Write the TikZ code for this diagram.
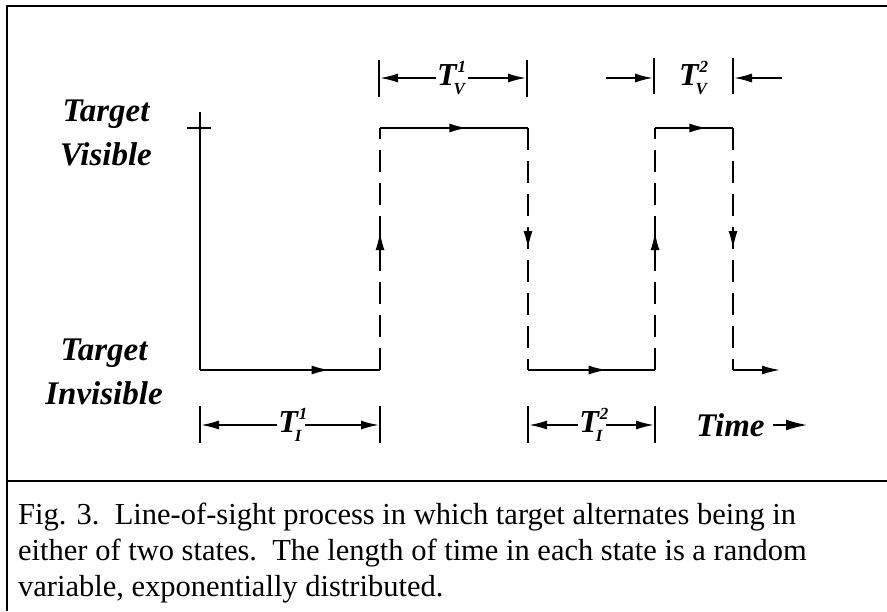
\documentclass[tikz,border=0pt]{standalone}
\usepackage{fontspec}
\setmainfont{Liberation Serif}
\usetikzlibrary{arrows.meta,decorations.markings}
\newcommand\TLab[2]{{\fontsize{32}{32}\selectfont\bfseries\itshape T\kern1pt\rlap{\raisebox{13pt}{\fontsize{17}{17}\selectfont #2}}\kern-4pt\raisebox{-9pt}{\fontsize{17}{17}\selectfont #1}\kern2pt}}
\begin{document}
\begin{tikzpicture}[x=1pt,y=-1pt,
  line cap=butt,
  sig/.style={line width=1.8pt},
  dsh/.style={line width=1.8pt, dash pattern=on 22pt off 11pt},
  midarr/.style={postaction={decorate},decoration={markings,mark=at position #1 with {\arrow{Latex[length=18pt,width=9pt]}}}},
  dimarr/.style={line width=1.8pt,-{Latex[length=18pt,width=9pt]}},
  bar/.style={line width=1.8pt},
  frame/.style={line width=2.4pt},
  lbl/.style={font=\fontsize{33}{44}\selectfont\bfseries\itshape, align=center, inner sep=0pt},
  tlab/.style={inner sep=1pt},
]
\useasboundingbox (0,0) rectangle (887,611);
% frame
\draw[frame] (7,611) -- (7,6) -- (887,6);
\draw[frame] (7,481) -- (887,481);
% corners of the signal
\coordinate (a0) at (200,370);
\coordinate (a1) at (380,370);
\coordinate (a2) at (380,128);
\coordinate (a3) at (528,128);
\coordinate (a4) at (528,370);
\coordinate (a5) at (655,370);
\coordinate (a6) at (655,128);
\coordinate (a7) at (733,128);
\coordinate (a8) at (733,370);
\coordinate (a9) at (780,370);
\coordinate (ax) at (200,112);
\coordinate (tk1) at (187,128);
\coordinate (tk2) at (211,128);
% axis
\draw[sig] (ax) -- (a0);
\draw[sig] (tk1) -- (tk2);
% signal
\draw[sig,midarr=0.72] (a0) -- (a1);
\draw[dsh,midarr=0.57] (a1) -- (a2);
\draw[sig,midarr=0.59] (a2) -- (a3);
\draw[dsh,midarr=0.5] (a3) -- (a4);
\draw[sig,midarr=0.62] (a4) -- (a5);
\draw[dsh,midarr=0.57] (a5) -- (a6);
\draw[sig,midarr=0.67] (a6) -- (a7);
\draw[dsh,midarr=0.5] (a7) -- (a8);
\draw[dimarr] (a8) -- (a9);
% state labels
\node[lbl] (vis) at (106,133) {Target\\Visible};
\node[lbl] (inv) at (104,372) {Target\\Invisible};
% T_V^1
\coordinate (v1a) at (379,60); \coordinate (v1b) at (379,97);
\coordinate (v1c) at (527,60); \coordinate (v1d) at (527,97);
\draw[bar] (v1a) -- (v1b);
\draw[bar] (v1c) -- (v1d);
\node[tlab] (tv1) at (452,78) {\TLab{V}{1}};
\coordinate (v1l) at (380,78); \coordinate (v1r) at (526,78);
\draw[dimarr] (tv1.west) -- (v1l);
\draw[dimarr] (tv1.east) -- (v1r);
% T_V^2
\coordinate (v2a) at (654,58); \coordinate (v2b) at (654,94);
\coordinate (v2c) at (733,58); \coordinate (v2d) at (733,94);
\draw[bar] (v2a) -- (v2b);
\draw[bar] (v2c) -- (v2d);
\node[tlab] (tv2) at (694,78) {\TLab{V}{2}};
\coordinate (v2s) at (606,78); \coordinate (v2l) at (653,78);
\coordinate (v2t) at (782,78); \coordinate (v2r) at (734,78);
\draw[dimarr] (v2s) -- (v2l);
\draw[dimarr] (v2t) -- (v2r);
% T_I^1
\coordinate (i1a) at (200,406); \coordinate (i1b) at (200,443);
\coordinate (i1c) at (380,406); \coordinate (i1d) at (380,443);
\draw[bar] (i1a) -- (i1b);
\draw[bar] (i1c) -- (i1d);
\node[tlab] (ti1) at (291,425) {\TLab{I}{1}};
\coordinate (i1l) at (201,425); \coordinate (i1r) at (379,425);
\draw[dimarr] (ti1.west) -- (i1l);
\draw[dimarr] (ti1.east) -- (i1r);
% T_I^2
\coordinate (i2a) at (528,406); \coordinate (i2b) at (528,443);
\coordinate (i2c) at (655,406); \coordinate (i2d) at (655,443);
\draw[bar] (i2a) -- (i2b);
\draw[bar] (i2c) -- (i2d);
\node[tlab] (ti2) at (592,425) {\TLab{I}{2}};
\coordinate (i2l) at (529,425); \coordinate (i2r) at (654,425);
\draw[dimarr] (ti2.west) -- (i2l);
\draw[dimarr] (ti2.east) -- (i2r);
% Time
\node[lbl,anchor=west] (time) at (696,425) {Time};
\coordinate (tend) at (808,425);
\draw[line width=2.6pt,-{Latex[length=22pt,width=11pt]}] ([xshift=8pt]time.east) -- (tend);
% caption
\node[anchor=north west, inner sep=0pt, align=left, font=\fontsize{30.5}{36}\selectfont] (cap) at (18,503)
{Fig. 3.\ \ Line-of-sight process in which target alternates being in\\
either of two states.\ \ The length of time in each state is a random\\
variable, exponentially distributed.};
\end{tikzpicture}
\end{document}
